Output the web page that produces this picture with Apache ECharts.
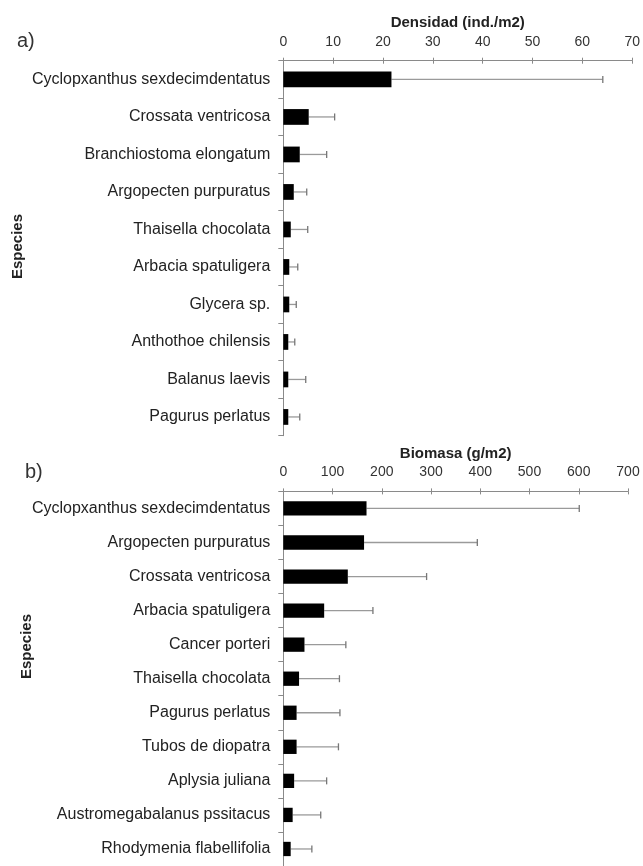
<!DOCTYPE html>
<html>
<head>
<meta charset="utf-8">
<script src="https://cdn.jsdelivr.net/npm/echarts@6/dist/echarts.min.js"></script>
<style>
html,body{margin:0;padding:0;background:#fff;}
#c{width:643px;height:866px;}
</style>
</head>
<body>
<div id="c"></div>
<script>
// ---- Data ----
const densCats = ['Cyclopxanthus sexdecimdentatus','Crossata ventricosa','Branchiostoma elongatum','Argopecten purpuratus','Thaisella chocolata','Arbacia spatuligera','Glycera sp.','Anthothoe chilensis','Balanus laevis','Pagurus perlatus'];
const densMean  = [21.7, 5.1, 3.3, 2.1, 1.5, 1.2, 1.2, 1.0, 1.0, 1.0];
const densUpper = [64.1, 10.3, 8.7, 4.7, 4.9, 2.9, 2.6, 2.3, 4.5, 3.3];

const bioCats = ['Cyclopxanthus sexdecimdentatus','Argopecten purpuratus','Crossata ventricosa','Arbacia spatuligera','Cancer porteri','Thaisella chocolata','Pagurus perlatus','Tubos de diopatra','Aplysia juliana','Austromegabalanus pssitacus','Rhodymenia flabellifolia'];
const bioMean  = [169, 164, 131, 83, 43, 32, 27, 27, 22, 19, 15];
const bioUpper = [601, 394, 291, 182, 127, 114, 115, 112, 88, 76, 58];

const densAxis = {min: 0, max: 70, interval: 10, name: 'Densidad (ind./m2)'};
const bioAxis  = {min: 0, max: 700, interval: 100, name: 'Biomasa (g/m2)'};

// ---- Styles ----
const FONT = '"Liberation Sans", Arial, sans-serif';
const AXIS_COLOR = '#8a8a8a';
const TEXT_COLOR = '#222';

function errRender(params, api) {
  const cat = api.value(0), lo = api.value(1), hi = api.value(2);
  const p0 = api.coord([lo, cat]);
  const p1 = api.coord([hi, cat]);
  const h = 3.5;
  return {type: 'group', children: [
    {type: 'line', shape: {x1: p0[0], y1: p0[1], x2: p1[0], y2: p1[1]}, style: {stroke: '#9a9a9a', lineWidth: 1.3}},
    {type: 'line', shape: {x1: p1[0], y1: p1[1] - h, x2: p1[0], y2: p1[1] + h}, style: {stroke: '#777', lineWidth: 1.3}}
  ]};
}

function valueAxis(cfg, gridIndex) {
  return {
    type: 'value', gridIndex: gridIndex, position: 'top',
    min: cfg.min, max: cfg.max, interval: cfg.interval,
    name: cfg.name, nameLocation: 'middle', nameGap: 30,
    nameTextStyle: {fontFamily: FONT, fontWeight: 'bold', fontSize: 15, color: TEXT_COLOR},
    axisLine: {show: true, lineStyle: {color: AXIS_COLOR, width: 1}},
    axisTick: {show: true, inside: false, length: 3, lineStyle: {color: AXIS_COLOR}},
    axisLabel: {fontFamily: FONT, fontSize: 14, color: '#333', margin: 12},
    splitLine: {show: false}
  };
}
function tickOverlay(cfg, gridIndex) {
  return {
    type: 'value', gridIndex: gridIndex, position: 'top',
    min: cfg.min, max: cfg.max, interval: cfg.interval,
    axisLine: {show: false},
    axisTick: {show: true, inside: true, length: 3, lineStyle: {color: AXIS_COLOR}},
    axisLabel: {show: false}, splitLine: {show: false}
  };
}
function catAxis(cats, gridIndex) {
  return {
    type: 'category', gridIndex: gridIndex, data: cats, inverse: true,
    axisLine: {show: true, lineStyle: {color: AXIS_COLOR, width: 1}},
    axisTick: {show: true, inside: false, length: 5, lineStyle: {color: AXIS_COLOR}},
    axisLabel: {fontFamily: FONT, fontSize: 16, color: TEXT_COLOR, margin: 13},
    splitLine: {show: false}
  };
}

const chart = echarts.init(document.getElementById('c'), null, {renderer: 'canvas'});
chart.setOption({
  animation: false,
  backgroundColor: '#fff',
  grid: [
    {left: 283.3, width: 349.7, top: 60.7, height: 375},
    {left: 283.3, width: 344.7, top: 491.4, height: 381}
  ],
  xAxis: [valueAxis(densAxis, 0), tickOverlay(densAxis, 0), valueAxis(bioAxis, 1), tickOverlay(bioAxis, 1)],
  yAxis: [catAxis(densCats, 0), catAxis(bioCats, 1)],
  graphic: [
    {type: 'text', x: 17, y: 31, style: {text: 'a)', font: '20px ' + FONT, fill: '#333'}},
    {type: 'text', x: 25, y: 462, style: {text: 'b)', font: '20px ' + FONT, fill: '#333'}},
    {type: 'text', x: 17.5, y: 246.5, rotation: Math.PI / 2, style: {text: 'Especies', font: 'bold 15px ' + FONT, fill: TEXT_COLOR, align: 'center', verticalAlign: 'middle'}},
    {type: 'text', x: 27, y: 646.5, rotation: Math.PI / 2, style: {text: 'Especies', font: 'bold 15px ' + FONT, fill: TEXT_COLOR, align: 'center', verticalAlign: 'middle'}}
  ],
  series: [
    {type: 'bar', xAxisIndex: 0, yAxisIndex: 0, data: densMean, barWidth: '42%', itemStyle: {color: '#000'}},
    {type: 'custom', xAxisIndex: 0, yAxisIndex: 0, renderItem: errRender, encode: {y: 0, x: [1, 2]},
     data: densCats.map((c, i) => [i, densMean[i], densUpper[i]])},
    {type: 'bar', xAxisIndex: 2, yAxisIndex: 1, data: bioMean, barWidth: '42%', itemStyle: {color: '#000'}},
    {type: 'custom', xAxisIndex: 2, yAxisIndex: 1, renderItem: errRender, encode: {y: 0, x: [1, 2]},
     data: bioCats.map((c, i) => [i, bioMean[i], bioUpper[i]])}
  ]
});
</script>
</body>
</html>
